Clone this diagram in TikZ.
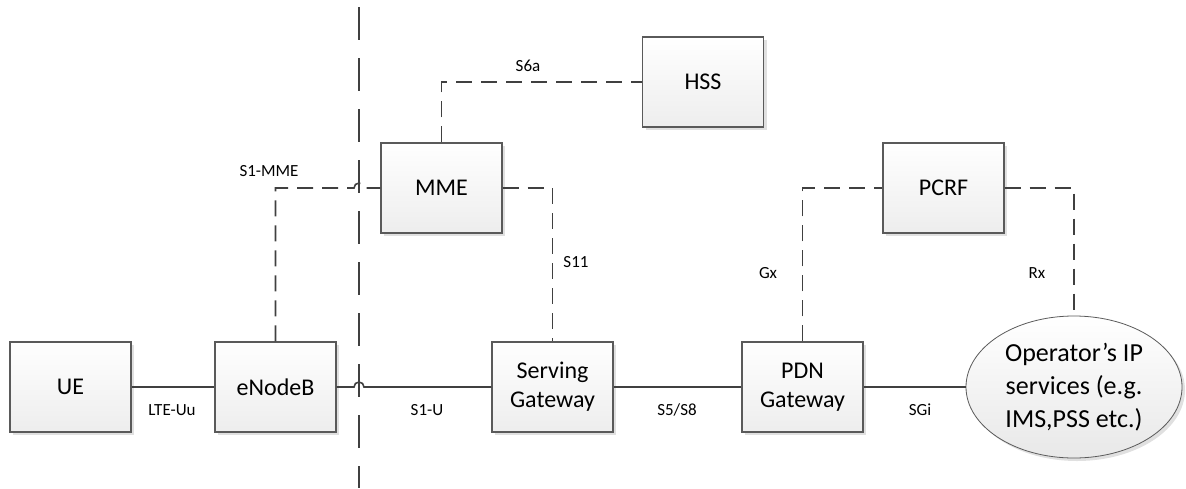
\documentclass[tikz,border=0pt]{standalone}
\usepackage{fontspec}
\setmainfont{Carlito}
\usetikzlibrary{shapes.geometric,shadows}
\definecolor{edge}{HTML}{404040}
\definecolor{frame}{HTML}{5A5A5A}
\begin{document}
\begin{tikzpicture}[x=1pt,y=-1pt,
  entity/.style={draw=frame, line width=1.1pt, top color=white, bottom color=black!7,
    minimum width=121pt, minimum height=90pt, inner sep=0pt, align=center,
    font=\fontsize{24}{29}\selectfont,
    drop shadow={shadow xshift=3pt, shadow yshift=-3pt, fill=black!12, opacity=1}},
  service/.style={ellipse, draw=frame, line width=0.8pt, top color=white, bottom color=black!9,
    minimum width=216pt, minimum height=142pt, inner sep=0pt, align=center,
    font=\fontsize{26}{33}\selectfont,
    drop shadow={shadow xshift=3pt, shadow yshift=-3pt, fill=black!12, opacity=1}},
  link/.style={draw=edge, line width=1.6pt},
  ctrl/.style={draw=edge, line width=1.6pt, dash pattern=on 16pt off 9pt},
  border/.style={draw=edge, line width=1.8pt, dash pattern=on 33pt off 18pt},
  iflabel/.style={font=\fontsize{17}{20}\selectfont, inner sep=0pt}]
\useasboundingbox (0,0) rectangle (1186,488);

% domain border
\coordinate (bTop) at (359,7);
\coordinate (bBot) at (359,488);
\draw[border] (bTop) -- (bBot);

% network elements
\node[entity] (ue)   at (70.5,387)  {UE};
\node[entity] (enb)  at (275.5,387) {eNodeB};
\node[entity] (mme)  at (441.5,188) {MME};
\node[entity] (sgw)  at (552.5,387) {Serving\\Gateway};
\node[entity] (pgw)  at (802.5,387) {PDN\\Gateway};
\node[entity] (hss)  at (703,82)    {HSS};
\node[entity] (pcrf) at (943.5,188) {PCRF};
\node[service] (ops) at (1074,387)  {Operator’s IP\\services (e.g.\\IMS,PSS etc.)};

% line crossings over the border
\coordinate (hopU) at (359,387);
\coordinate (hopC) at (359,188);

% user plane
\draw[link] (ue.east) -- (enb.west);
\draw[link] (enb.east) -- ([xshift=-5pt]hopU) arc[start angle=180, end angle=0, radius=5pt] -- (sgw.west);
\draw[link] (sgw.east) -- (pgw.west);
\draw[link] (pgw.east) -- (ops.west);

% control plane
\draw[ctrl] (enb.north) |- ([xshift=-5pt]hopC) arc[start angle=180, end angle=0, radius=5pt] -- (mme.west);
\draw[ctrl] (mme.north) |- (hss.west);
\draw[ctrl] (mme.east) -| (sgw.north);
\draw[ctrl] (pgw.north) |- (pcrf.west);
\draw[ctrl] (pcrf.east) -| (ops.north);

% interface labels
\node[iflabel] (lUu)  at (172,410) {LTE-Uu};
\node[iflabel] (lS1u) at (427,410) {S1-U};
\node[iflabel] (lS5)  at (677,410) {S5/S8};
\node[iflabel] (lSGi) at (920,410) {SGi};
\node[iflabel] (lS1m) at (269,171) {S1-MME};
\node[iflabel] (lS6a) at (528,66)  {S6a};
\node[iflabel] (lS11) at (576,262) {S11};
\node[iflabel] (lGx)  at (768,273) {Gx};
\node[iflabel] (lRx)  at (1037,273) {Rx};
\end{tikzpicture}
\end{document}
